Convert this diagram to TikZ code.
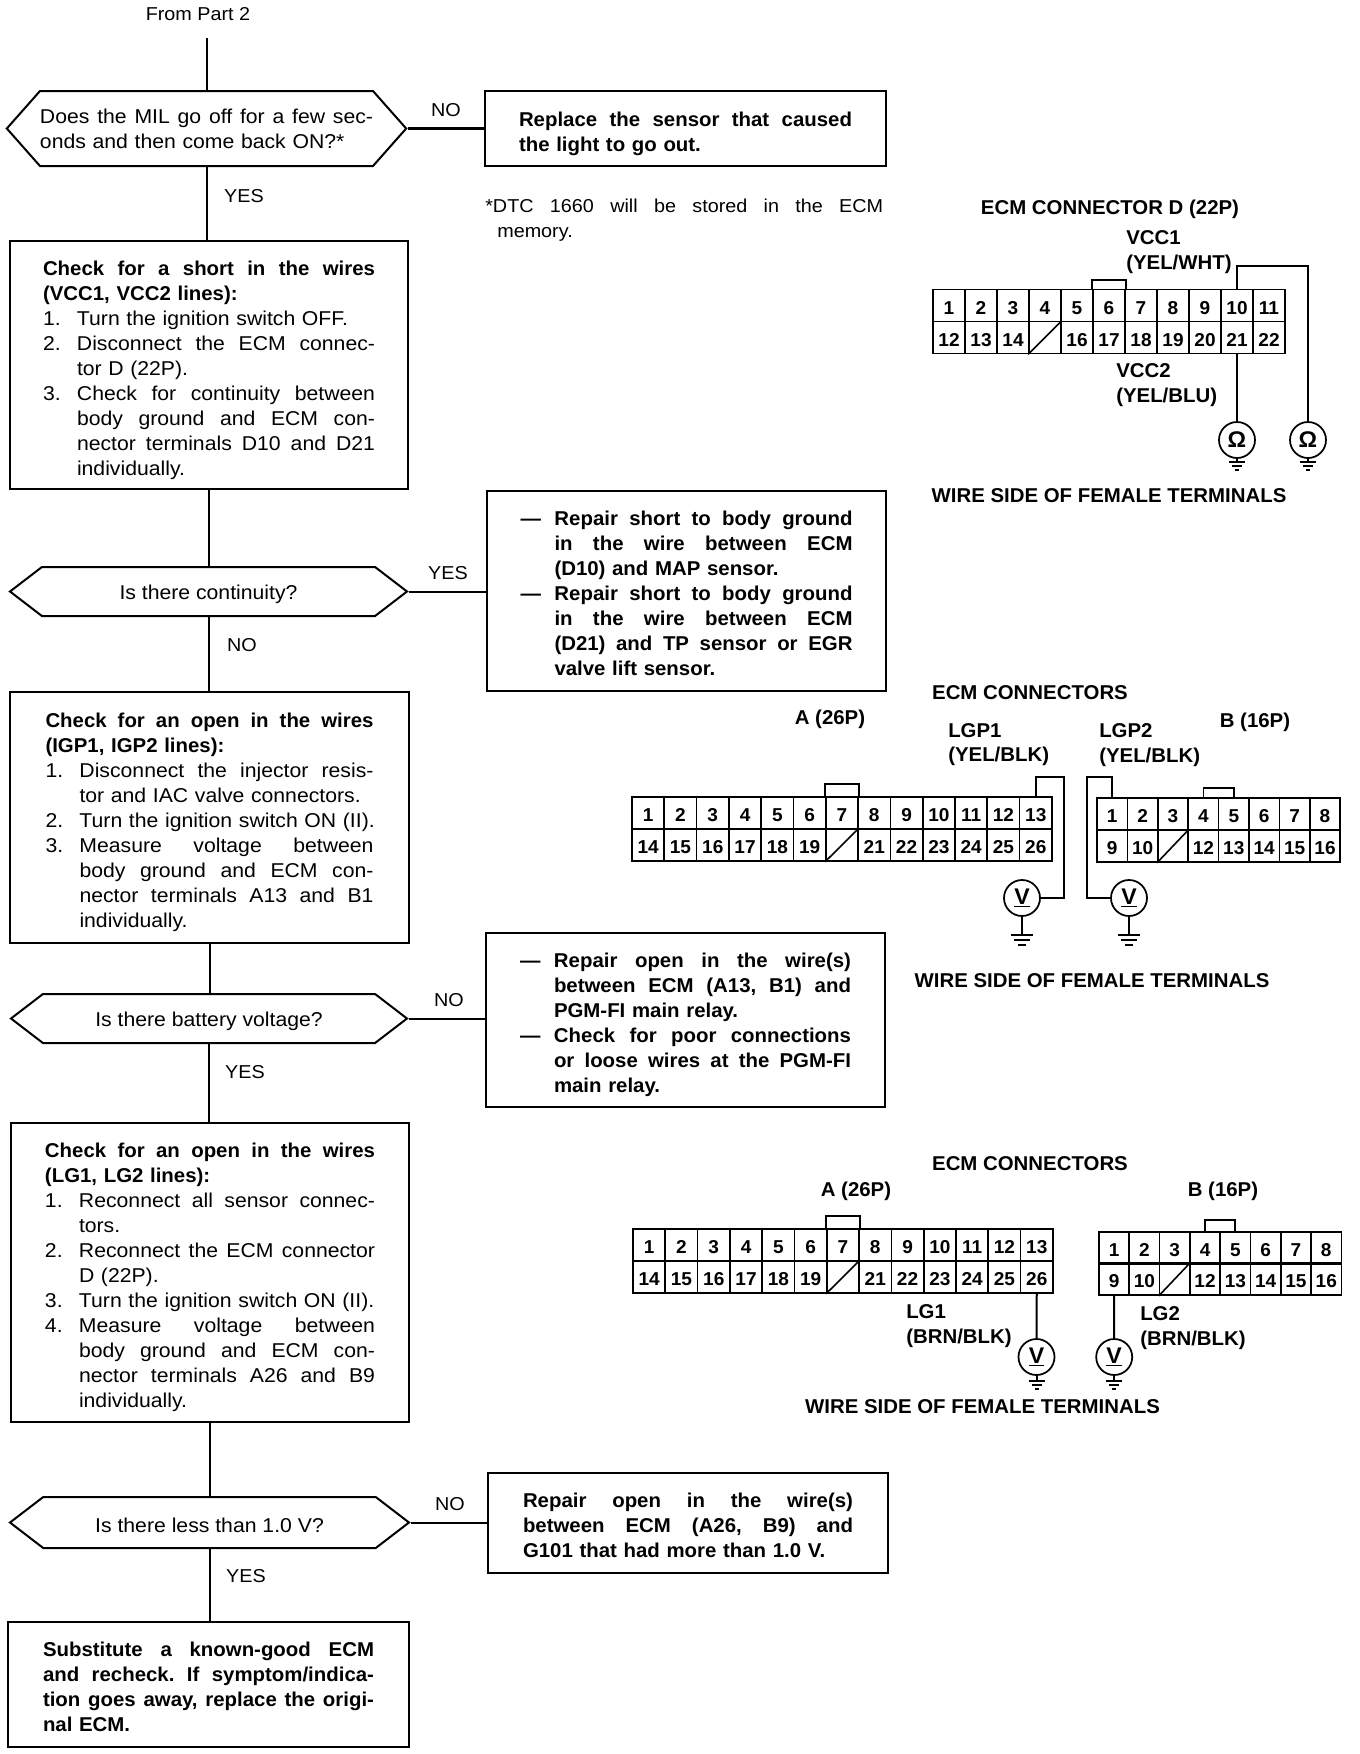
\documentclass[tikz,border=0pt]{standalone}
\usepackage{fontspec}
\setmainfont[UprightFeatures={FakeStretch=1.06},BoldFeatures={FakeStretch=1.02}]{Liberation Sans}
\usepackage{tikz}
\usetikzlibrary{shapes.symbols, positioning}
\frenchspacing

\newlength{\Tab}
\setlength{\Tab}{25.5pt}
\newlength{\Wd}
\newcommand{\Full}[1]{\makebox[\Wd][s]{\spaceskip=0pt\xspaceskip=0pt #1}}
\newcommand{\Step}[2]{\makebox[\Tab][l]{#1}\makebox[\dimexpr\Wd-\Tab][s]{\spaceskip=0pt\xspaceskip=0pt #2}}
\newcommand{\Free}[2]{\makebox[\Tab][l]{#1}\mbox{#2}}

\begin{document}
\begin{tikzpicture}
  [
    x=0.75pt, y=-0.75pt,
    Wide/.style={text width={#1*0.75pt}, execute at begin node={\pgfmathsetlength{\Wd}{#1*0.75pt}}},
    Box/.style={draw, line width=1.5pt, inner sep=0pt, align=left, font=\fontsize{15pt}{18.75pt}\selectfont, execute at begin node={\rule{0pt}{18.5pt}}},
    Up/.style={execute at end node={\rule[-5pt]{0pt}{0pt}}},
    Hex/.style={draw, line width=1.5pt, inner sep=0pt, align=center, shape=signal, signal to=east and west, signal pointer angle=75, font=\fontsize{15pt}{18.75pt}\selectfont},
    Low/.style={execute at begin node={\rule{0pt}{15.5pt}}},
    Answer/.style={font=\fontsize{14pt}{18.75pt}\selectfont},
    Lbl/.style={inner sep=0pt, font=\bfseries\fontsize{15pt}{18pt}\selectfont},
    Pin/.style={draw, line width=1.2pt, inner sep=0pt, minimum width=24pt, minimum height=24pt, font=\bfseries\fontsize{14pt}{16pt}\selectfont, execute at begin node={\rule{0pt}{13pt}}},
    Meter/.style={circle, draw, line width=1.3pt, inner sep=0pt, minimum size=27pt, font=\bfseries\fontsize{17pt}{18pt}\selectfont},
    Line/.style={draw, line width=1.5pt},
    Gnd/.pic={
      \draw[line width=1.3pt] (-11,0) -- (11,0) (-8,5) -- (8,5) (-4,10) -- (4,10);
    },
    GndSmall/.pic={
      \draw[line width=1.3pt] (-8,0) -- (8,0) (-5,4) -- (5,4) (-2,8) -- (2,8);
    }
  ]
  \useasboundingbox (0,0) rectangle (1360,1754);

  % Nodes
  \node[Answer] (part2) at (198,14) {From Part 2};
  \coordinate (start) at (207,38);
  \node[Hex, Wide=333, align=left, minimum width={399*0.75pt}, minimum height={75*0.75pt}, signal pointer angle=97] (hex1) at (206.5,128.5) {\Full{Does the MIL go off for a few sec-}\\onds and then come back ON?*};
  \node[Box, Wide=333, minimum width={401*0.75pt}, minimum height={75*0.75pt}] (box1) at (685.5,128.5) {\bfseries\Full{Replace the sensor that caused}\\the light to go out.};
  \node[Answer] (no1) at (446,110) {NO};
  \node[Answer] (yes1) at (244,196) {YES};
  \node[Answer, anchor=west, inner sep=0pt, align=left] (note) at (485,220) {\makebox[298.5pt][s]{\spaceskip=0pt\xspaceskip=0pt *DTC 1660 will be stored in the ECM}\\\hspace*{9pt}memory.};

  \node[Box, Wide=332, minimum width={398*0.75pt}, minimum height={248*0.75pt}] (box2) at (209,365) {\textbf{\Full{Check for a short in the wires}}\\\textbf{(VCC1, VCC2 lines):}\\\Free{1.}{Turn the ignition switch OFF.}\\\Step{2.}{Disconnect the ECM connec-}\\\Free{}{tor D (22P).}\\\Step{3.}{Check for continuity between}\\\Step{}{body ground and ECM con-}\\\Step{}{nector terminals D10 and D21}\\\Free{}{individually.}};

  \node[Hex, Low, minimum width={397*0.75pt}, minimum height={49*0.75pt}] (hex2) at (208.5,591.5) {Is there continuity?};
  \node[Answer] (yes2) at (448,573) {YES};
  \node[Answer] (no2) at (242,645) {NO};
  \node[Box, Up, Wide=332, minimum width={399*0.75pt}, minimum height={200*0.75pt}] (box3) at (686.5,591) {\bfseries\Step{---}{Repair short to body ground}\\\Step{}{in the wire between ECM}\\\Free{}{(D10) and MAP sensor.}\\\Step{---}{Repair short to body ground}\\\Step{}{in the wire between ECM}\\\Step{}{(D21) and TP sensor or EGR}\\\Free{}{valve lift sensor.}};

  \node[Box, Wide=328, minimum width={399*0.75pt}, minimum height={251*0.75pt}] (box4) at (209.5,817.5) {\textbf{\Full{Check for an open in the wires}}\\\textbf{(IGP1, IGP2 lines):}\\\Step{1.}{Disconnect the injector resis-}\\\Free{}{tor and IAC valve connectors.}\\\Free{2.}{Turn the ignition switch ON (II).}\\\Step{3.}{Measure voltage between}\\\Step{}{body ground and ECM con-}\\\Step{}{nector terminals A13 and B1}\\\Free{}{individually.}};

  \node[Hex, Low, minimum width={396*0.75pt}, minimum height={49*0.75pt}] (hex3) at (209,1018.5) {Is there battery voltage?};
  \node[Answer] (no3) at (449,1000) {NO};
  \node[Answer] (yes3) at (245,1072) {YES};
  \node[Box, Wide=331, minimum width={399*0.75pt}, minimum height={174*0.75pt}] (box5) at (685.5,1020) {\bfseries\Step{---}{Repair open in the wire(s)}\\\Step{}{between ECM (A13, B1) and}\\\Free{}{PGM-FI main relay.}\\\Step{---}{Check for poor connections}\\\Step{}{or loose wires at the PGM-FI}\\\Free{}{main relay.}};

  \node[Box, Wide=330, minimum width={398*0.75pt}, minimum height={299*0.75pt}] (box6) at (210,1272.5) {\textbf{\Full{Check for an open in the wires}}\\\textbf{(LG1, LG2 lines):}\\\Step{1.}{Reconnect all sensor connec-}\\\Free{}{tors.}\\\Step{2.}{Reconnect the ECM connector}\\\Free{}{D (22P).}\\\Free{3.}{Turn the ignition switch ON (II).}\\\Step{4.}{Measure voltage between}\\\Step{}{body ground and ECM con-}\\\Step{}{nector terminals A26 and B9}\\\Free{}{individually.}};

  \node[Hex, Low, minimum width={399*0.75pt}, minimum height={51*0.75pt}] (hex4) at (209.5,1522.5) {Is there less than 1.0 V?};
  \node[Answer] (no4) at (450,1504) {NO};
  \node[Answer] (yes4) at (246,1576) {YES};
  \node[Box, Up, Wide=330, minimum width={400*0.75pt}, minimum height={100*0.75pt}] (box7) at (688,1523) {\bfseries\Full{Repair open in the wire(s)}\\\Full{between ECM (A26, B9) and}\\G101 that had more than 1.0 V.};
  \node[Box, Up, Wide=331, minimum width={401*0.75pt}, minimum height={125*0.75pt}] (box8) at (208.5,1684.5) {\bfseries\Full{Substitute a known-good ECM}\\\Full{and recheck. If symptom/indica-}\\\Full{tion goes away, replace the origi-}\\nal ECM.};

  % Connector D
  \node[Lbl] (titled) at (1110,209) {ECM CONNECTOR D (22P)};
  \node[Lbl, anchor=west] (vcc1) at (1126,238) {VCC1};
  \node[Lbl, anchor=west] (vcc1c) at (1126,264) {(YEL/WHT)};
  \foreach \n in {1,...,11}
    \node[Pin] (d\n) at ({933+32*\n-16},305.5) {\n};
  \foreach \n in {12,13,14,16,17,...,22}
    \node[Pin] (d\n) at ({933+32*(\n-11)-16},337.5) {\n};
  \node[Pin] (d15) at ({933+32*4-16},337.5) {};
  \node[Lbl, anchor=west] (vcc2) at (1116,371) {VCC2};
  \node[Lbl, anchor=west] (vcc2c) at (1116,397) {(YEL/BLU)};
  \node[Meter] (md1) at (1237,440) {Ω};
  \node[Meter] (md2) at (1308,440) {Ω};
  \coordinate (td) at (1308,266);
  \coordinate (gd1) at (1237,462);
  \coordinate (gd2) at (1308,462);
  \node[Lbl] (sided) at (1109,496) {WIRE SIDE OF FEMALE TERMINALS};

  % Connectors A and B, upper
  \node[Lbl] (titleu) at (1030,693) {ECM CONNECTORS};
  \node[Lbl] (au) at (830,719) {A (26P)};
  \node[Lbl] (bu) at (1255,722) {B (16P)};
  \node[Lbl, anchor=west] (lgp1) at (948,731) {LGP1};
  \node[Lbl, anchor=west] (lgp1c) at (948,756) {(YEL/BLK)};
  \node[Lbl, anchor=west] (lgp2) at (1099,731) {LGP2};
  \node[Lbl, anchor=west] (lgp2c) at (1099,757) {(YEL/BLK)};
  \foreach \n in {1,...,13}
    \node[Pin, minimum width=24.2pt] (a\n) at ({632+32.3*\n-16.15},813) {\n};
  \foreach \n in {14,...,19,21,22,...,26}
    \node[Pin, minimum width=24.2pt] (a\n) at ({632+32.3*(\n-13)-16.15},845) {\n};
  \node[Pin, minimum width=24.2pt] (a20) at ({632+32.3*7-16.15},845) {};
  \foreach \n in {1,...,8}
    \node[Pin, minimum width=22.8pt] (b\n) at ({1097+30.4*\n-15.2},814) {\n};
  \foreach \n in {9,10,12,13,...,16}
    \node[Pin, minimum width=22.8pt] (b\n) at ({1097+30.4*(\n-8)-15.2},846) {\n};
  \node[Pin, minimum width=22.8pt] (b11) at ({1097+30.4*3-15.2},846) {};
  \node[Meter] (ma) at (1022,898) {\underline{V}};
  \node[Meter] (mb) at (1129,898) {\underline{V}};
  \coordinate (ta) at (1064,777);
  \coordinate (tb) at (1087,777);
  \coordinate (ga) at (1022,935);
  \coordinate (gb) at (1129,935);
  \node[Lbl] (sideu) at (1092,981) {WIRE SIDE OF FEMALE TERMINALS};

  % Connectors A and B, lower
  \node[Lbl] (titlel) at (1030,1164) {ECM CONNECTORS};
  \node[Lbl] (al) at (856,1191) {A (26P)};
  \node[Lbl] (bl) at (1223,1191) {B (16P)};
  \foreach \n in {1,...,13}
    \node[Pin, minimum width=24.2pt] (p\n) at ({633+32.3*\n-16.15},1245) {\n};
  \foreach \n in {14,...,19,21,22,...,26}
    \node[Pin, minimum width=24.2pt] (p\n) at ({633+32.3*(\n-13)-16.15},1277) {\n};
  \node[Pin, minimum width=24.2pt] (p20) at ({633+32.3*7-16.15},1277) {};
  \foreach \n in {1,...,8}
    \node[Pin, minimum width=22.7pt] (q\n) at ({1099+30.3*\n-15.15},1248) {\n};
  \foreach \n in {9,10,12,13,...,16}
    \node[Pin, minimum width=22.7pt] (q\n) at ({1099+30.3*(\n-8)-15.15},1279) {\n};
  \node[Pin, minimum width=22.7pt] (q11) at ({1099+30.3*3-15.15},1279) {};
  \node[Lbl, anchor=west] (lg1) at (906,1312) {LG1};
  \node[Lbl, anchor=west] (lg1c) at (906,1338) {(BRN/BLK)};
  \node[Lbl, anchor=west] (lg2) at (1140,1314) {LG2};
  \node[Lbl, anchor=west] (lg2c) at (1140,1340) {(BRN/BLK)};
  \node[Meter] (mc) at (1036.5,1357) {\underline{V}};
  \node[Meter] (me) at (1114.2,1357) {\underline{V}};
  \coordinate (gc) at (1036.5,1381);
  \coordinate (ge) at (1114.2,1381);
  \node[Lbl] (sidel) at (982.5,1407) {WIRE SIDE OF FEMALE TERMINALS};

  % Lines
  \path [Line] (start) -- (start |- hex1.north);
  \path [Line, line width=2.4pt] (hex1.east) -- (box1.west |- hex1.east);
  \path [Line] (hex1.south) -- (hex1.south |- box2.north);
  \path [Line] (hex2.north) -- (hex2.north |- box2.south);
  \path [Line] (hex2.east) -- (box3.west |- hex2.east);
  \path [Line] (hex2.south) -- (hex2.south |- box4.north);
  \path [Line] (box4.south) -- (box4.south |- hex3.north);
  \path [Line] (hex3.east) -- (box5.west |- hex3.east);
  \path [Line] (hex3.south) -- (hex3.south |- box6.north);
  \path [Line] (box6.south) -- (box6.south |- hex4.north);
  \path [Line] (hex4.east) -- (box7.west |- hex4.east);
  \path [Line] (hex4.south) -- (hex4.south |- box8.north);

  \draw[line width=1.2pt] (d15.south west) -- (d15.north east);
  \draw[line width=1.2pt] (a20.south west) -- (a20.north east);
  \draw[line width=1.2pt] (b11.south west) -- (b11.north east);
  \draw[line width=1.2pt] (p20.south west) -- (p20.north east);
  \draw[line width=1.2pt] (q11.south west) -- (q11.north east);

  % Latches
  \path [Line, line width=1.2pt] (d6.north west) -- ++(0,-9) -| (d6.north east);
  \path [Line] (a7.north west) -- ++(0,-12) -| (a7.north east);
  \path [Line, line width=1.2pt] (b4.north) -- ++(0,-9) -| (b5.north);
  \path [Line, line width=1.2pt] (p7.north west) -- ++(0,-12) -| (p7.north east);
  \path [Line] (q4.north) -- ++(0,-11) -| (q5.north);

  % Wires
  \path [Line] (d10.north) |- (td) -- (md2.north);
  \path [Line] (d21.south) -- (md1.north);
  \path [Line] (md1.south) -- (gd1);
  \path [Line] (md2.south) -- (gd2);
  \path [Line] (a13.north) |- (ta) |- (ma.east);
  \path [Line] (b1.north) |- (tb) |- (mb.west);
  \path [Line, line width=1.2pt] (ma.south) -- (ga);
  \path [Line, line width=1.2pt] (mb.south) -- (gb);
  \path [Line] (p26.south) -- (mc.north);
  \path [Line] (q9.south) -- (me.north);
  \path [Line] (mc.south) -- (gc);
  \path [Line] (me.south) -- (ge);

  \pic at (ga) {Gnd};
  \pic at (gb) {Gnd};
  \pic at (gd1) {GndSmall};
  \pic at (gd2) {GndSmall};
  \pic at (gc) {GndSmall};
  \pic at (ge) {GndSmall};

\end{tikzpicture}
\end{document}
